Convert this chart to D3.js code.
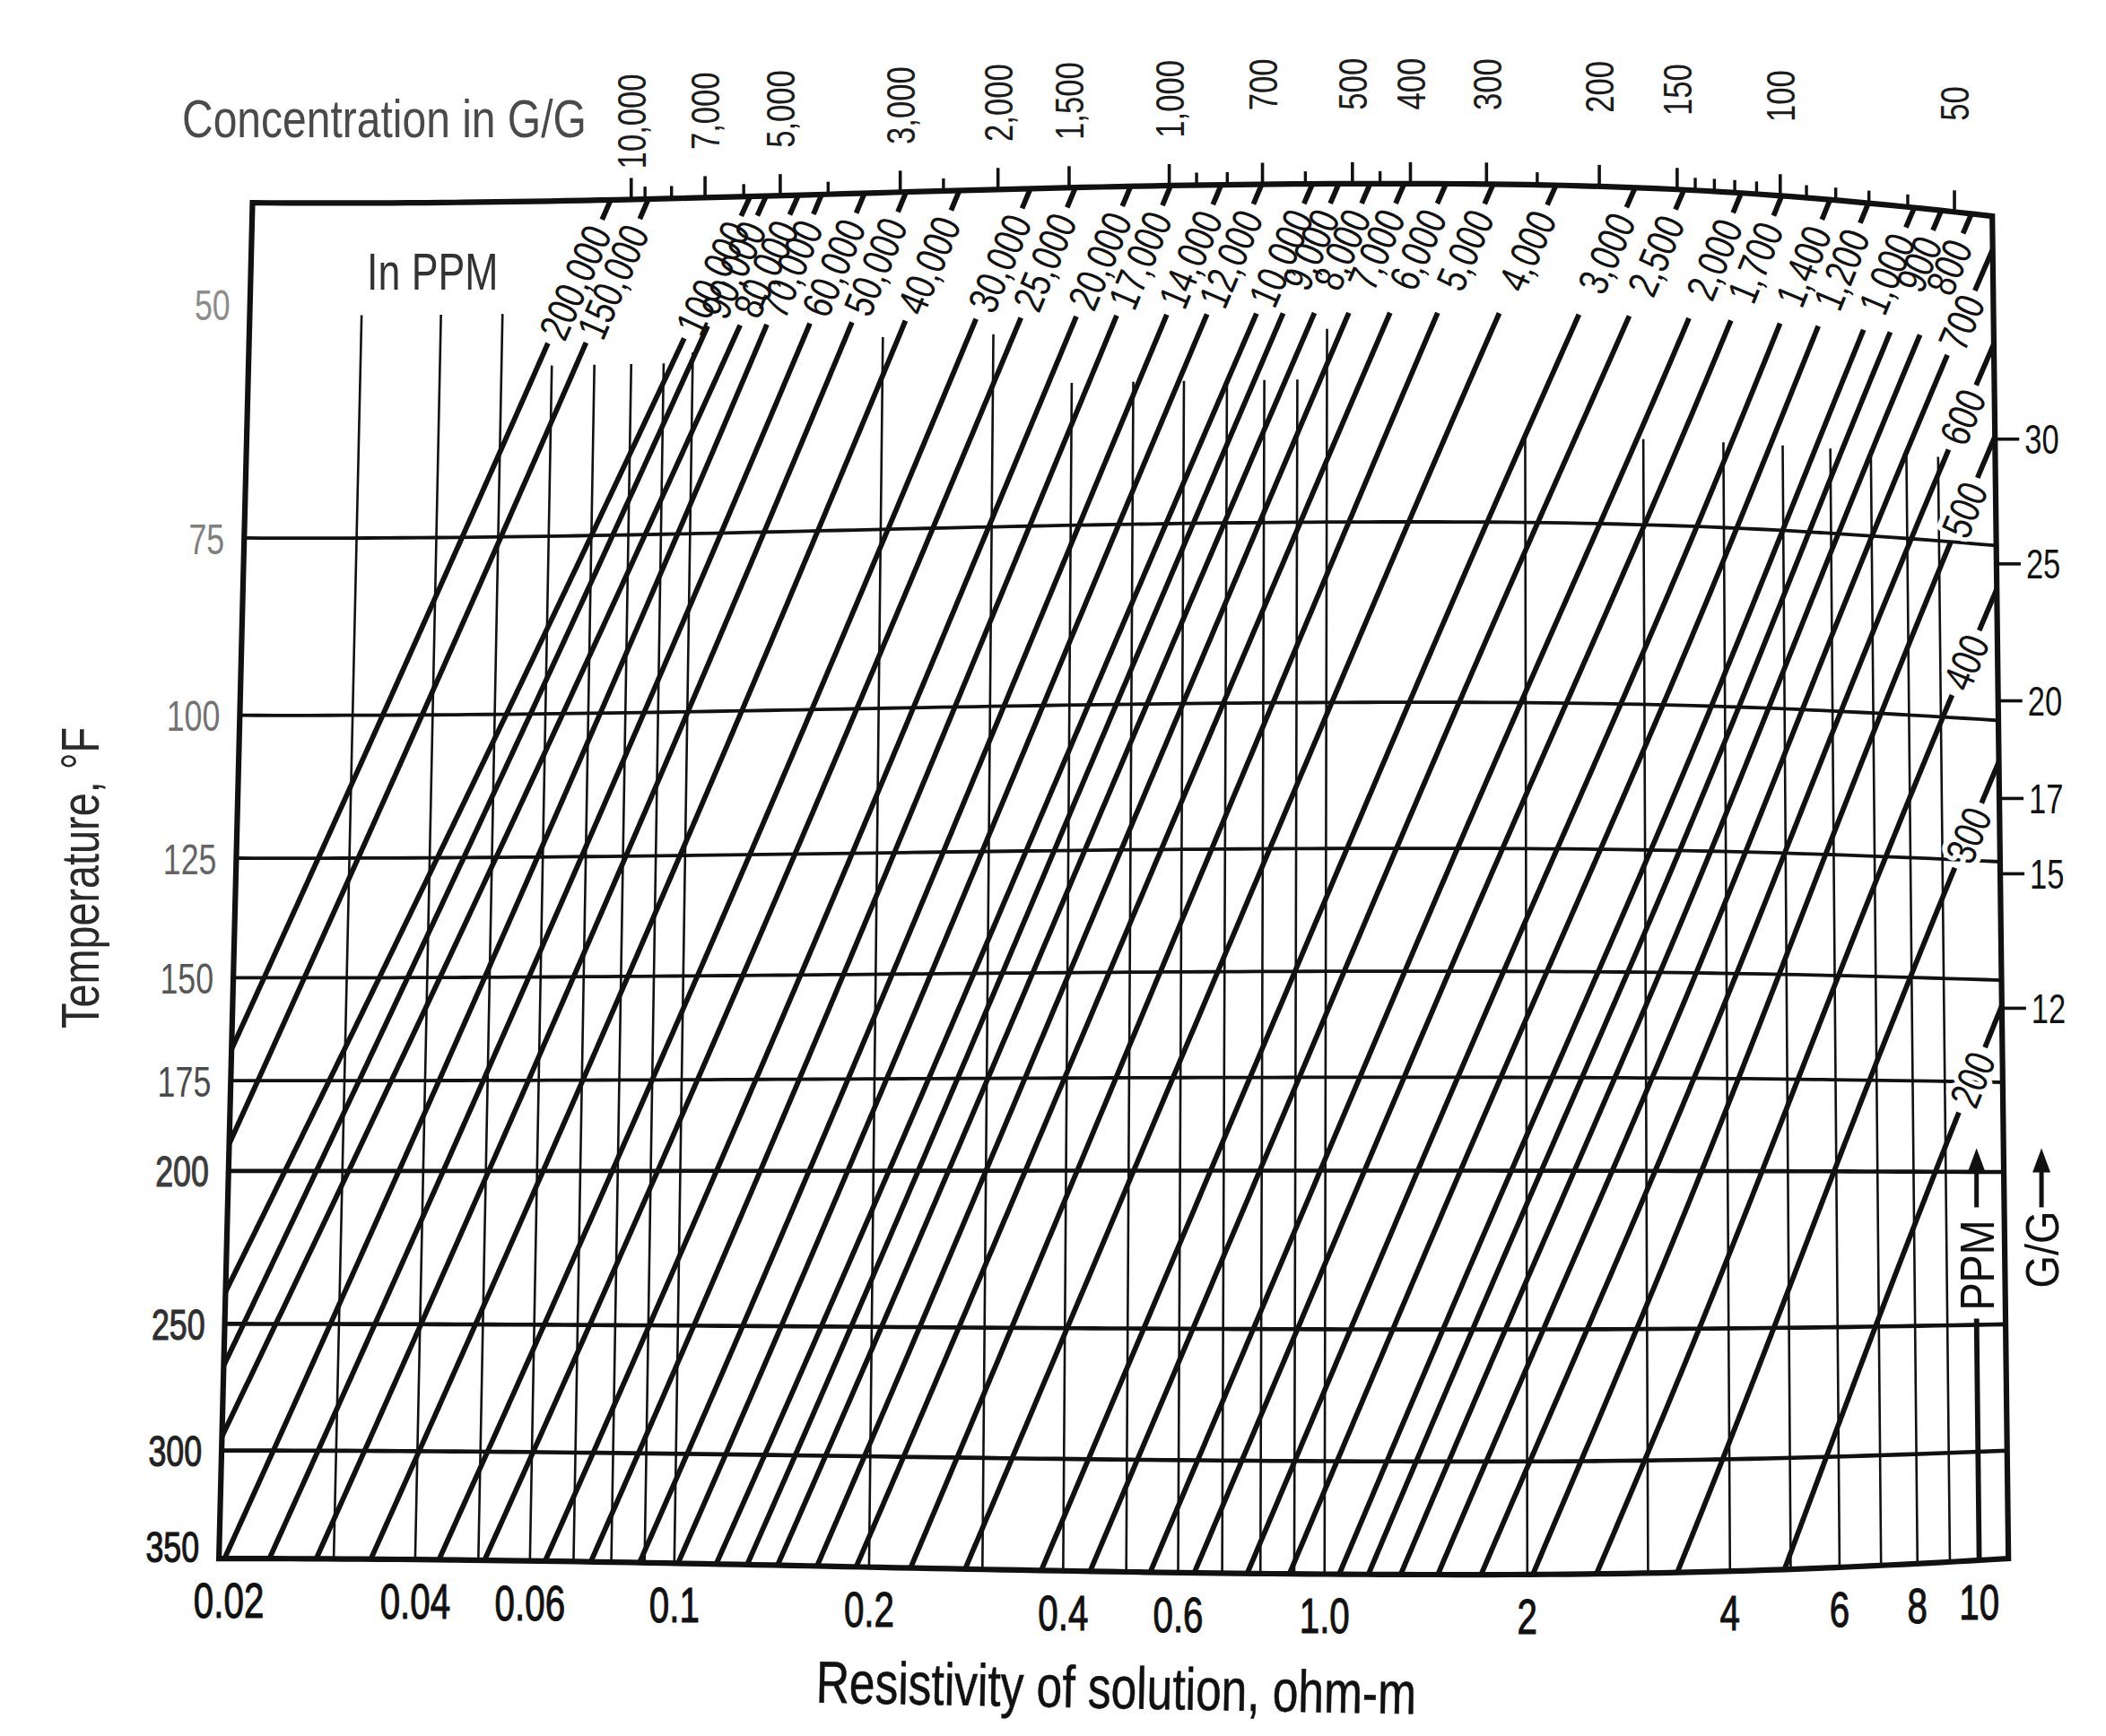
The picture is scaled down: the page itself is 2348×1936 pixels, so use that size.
<!DOCTYPE html>
<html><head><meta charset="utf-8">
<script src="https://cdn.jsdelivr.net/npm/d3@7"></script>
<style>
html,body{margin:0;padding:0;background:#fff;}
svg{display:block;background:#fff;}
text{font-family:"Liberation Sans",Arimo,Arial,sans-serif;}
</style></head><body>
<svg id="chart" width="2348" height="1936"></svg>
<script>
// ---------------- DATA ----------------
const ppmValues = [200000,150000,100000,90000,80000,70000,60000,50000,40000,30000,25000,20000,17000,14000,12000,10000,9000,8000,7000,6000,5000,4000,3000,2500,2000,1700,1400,1200,1000,900,800,700,600,500,400,300,200];
// resistivity (ohm-m) at 75 °F and at 350 °F (line extended where it leaves the grid)
const resistivityAt75F = [0.0439,0.0505,0.070,0.0756,0.085,0.0956,0.1119,0.1308,0.159,0.2054,0.242,0.2968,0.3445,0.4123,0.4758,0.5641,0.622,0.695,0.788,0.911,1.082,1.336,1.755,2.087,2.579,3.009,3.623,4.195,4.988,5.518,6.168,7.01,8.12,9.40,11.87,15.44,22.1];
const resistivityAt350F = [0.00914,0.01061,0.01284,0.01467,0.01643,0.0204,0.0239,0.0282,0.0342,0.0435,0.0511,0.0633,0.0744,0.0884,0.1013,0.116,0.1295,0.1443,0.1661,0.191,0.232,0.282,0.370,0.440,0.544,0.635,0.764,0.885,1.052,1.164,1.301,1.478,1.712,2.037,2.52,3.317,4.885];
const temperatureTicks = [50,75,100,125,150,175,200,250,300,350];
const temperatureGrid = [75,100,125,150,175,200,250,300];
const resistivityTicks = [0.02,0.04,0.06,0.1,0.2,0.4,0.6,1.0,2,4,6,8,10];
const resistivityTickLabels = ["0.02","0.04","0.06","0.1","0.2","0.4","0.6","1.0","2","4","6","8","10"];
const resistivityGrid = [0.03,0.04,0.05,0.06,0.07,0.08,0.09,0.1,0.2,0.3,0.4,0.5,0.6,0.7,0.8,0.9,1,2,3,4,5,6,7,8,9];
const grainsTopMajor = [10000,7000,5000,3000,2000,1500,1000,700,500,400,300,200,150,100,50];
const grainsTopMinor = [9000,8000,6000,4000,2500,900,800,600,450,250,140,130,120,110,90,80,70,60];
const grainsRight = [30,25,20,17,15,12];
const ppmPerGrainTop = 17.1;
const ppmPerGrainRight = 16.6;

// ---------------- LAYOUT ----------------
const S = 2348/1568;
const T_OFF = 17, T_TOP = 41.4, T_BOT = 350, R_MIN = 0.02, R_MAX = 11.1;
const xScale = d3.scaleLog().domain([R_MIN, R_MAX]).range([0,1]);
const yScale = d3.scaleLog().domain([T_TOP+T_OFF, T_BOT+T_OFF]).range([0,1]);
const vOf = T => yScale(T + T_OFF);
const INK = "#111";

function fBump(u){ const u0=0.7; if(u<u0){ const s=Math.sin(Math.PI/2*u/u0); return s*s; } const t=(u-u0)/(1-u0); return 1-t*t; }
function bulge(v){ return -21 + 16.7*v + 16.3*v*v; }
function gx(u){ return 8.5*Math.exp(-Math.pow((u-0.82)/0.1,2)) - 3*Math.exp(-Math.pow((u-0.5)/0.15,2)); }
// page projection of the chart frame (photo keystone + page curl)
function warp(u,v){
  const xl = 188 + (163-188)*v, xr = 1483 + (1495-1483)*v;
  const x = xl + (xr-xl)*u + gx(u);
  const yl = 151 + (1160.7-151)*v;
  const y = yl + 10*(1-v)*(1-v)*u + bulge(v)*fBump(u);
  return [x*S, y*S];
}
function sample(fn,t0,t1,n){ const a=[]; for(let i=0;i<=n;i++) a.push(fn(t0+(t1-t0)*i/n)); return a; }
function cumul(p){ const c=[0]; for(let i=1;i<p.length;i++) c.push(c[i-1]+Math.hypot(p[i][0]-p[i-1][0],p[i][1]-p[i-1][1])); return c; }
function pointAt(p,c,s){ let i=d3.bisectLeft(c,s); if(i<1) i=1; if(i>p.length-1) i=p.length-1;
  const t=(s-c[i-1])/((c[i]-c[i-1])||1); const a=p[i-1], b=p[i];
  return {x:a[0]+(b[0]-a[0])*t, y:a[1]+(b[1]-a[1])*t, dx:b[0]-a[0], dy:b[1]-a[1]}; }
function slicePts(p,c,sa,sb){ const o=[]; const a=pointAt(p,c,sa); o.push([a.x,a.y]);
  for(let i=0;i<p.length;i++) if(c[i]>sa && c[i]<sb) o.push(p[i]);
  const b=pointAt(p,c,sb); o.push([b.x,b.y]); return o; }
const lineGen = d3.line();

const svg = d3.select("#chart");
const gGrid = svg.append("g").attr("fill","none").attr("stroke",INK);
const gConc = svg.append("g").attr("fill","none").attr("stroke",INK).attr("stroke-width",5.8).attr("stroke-linecap","butt");
const gFrame = svg.append("g").attr("fill","none").attr("stroke",INK);
const gText = svg.append("g").attr("fill",INK);

// condensed text helper: scale along the text direction
function label(str,o){
  const sx=o.sx||0.76;
  const t=gText.append("text").text(str).attr("font-size",o.size)
    .attr("text-anchor",o.anchor||"start").attr("fill",o.fill||INK)
    .attr("transform",`translate(${o.x},${o.y}) rotate(${o.rot||0}) scale(${sx},1)`);
  if(o.dy) t.attr("dy",o.dy);
  if(o.bold) t.attr("stroke",o.fill||INK).attr("stroke-width",o.bold);
  t.len = () => t.node().getComputedTextLength()*sx;
  return t;
}

// ---------- vertical resistivity grid ----------
function gridTopT(R){ if(R<0.055) return 51; if(R<0.095) return 56; if(R<0.15) return 55; if(R<0.35) return 54; if(R<0.95) return 59; if(R<1.5) return 54; return 65; }
resistivityGrid.forEach(R=>{
  const u=xScale(R);
  gGrid.append("path").attr("stroke-width",2.6)
    .attr("d",lineGen(sample(v=>warp(u,v),vOf(gridTopT(R)),1,40)));
});
// ---------- horizontal temperature grid ----------
temperatureGrid.forEach(T=>{
  const v=vOf(T);
  gGrid.append("path").attr("stroke-width",T>=200?4.6:3.8)
    .attr("d",lineGen(sample(u=>warp(u,v),0,1,100)));
});

// ---------- concentration lines ----------
const v75 = vOf(75);
const lines = ppmValues.map((p,i)=>{
  const L75=Math.log10(resistivityAt75F[i]), L350=Math.log10(resistivityAt350F[i]);
  const b=(L350-L75)/(1-v75), a=L75-b*v75;
  const uAt = v => xScale(Math.pow(10,a+b*v));
  const side = uAt(0)>1 ? "right" : "top";
  const v0 = side==="top" ? 0 : (Math.log10(R_MAX)-a)/b;
  const v1 = uAt(1)<0 ? (Math.log10(R_MIN)-a)/b : 1;
  return {ppm:p,a,b,uAt,side,v0,v1};
});
const fmt = d3.format(",");
const N=240;
const topLogR=[], topPpm=[], rightV=[], rightPpm=[];
const vMainStart = vOf(52.5);
lines.forEach(l=>{
  const pts = sample(v=>warp(l.uAt(v),v), l.v0, l.v1, N);
  const c = cumul(pts); const total=c[c.length-1];
  const lab = label(fmt(l.ppm),{x:0,y:0,size:47,sx:0.78,anchor:"end",dy:"0.36em"});
  const len = lab.len();
  let sStub, sLab, sMain;
  if(l.side==="top"){
    topLogR.push(l.a); topPpm.push(l.ppm);
    sStub=24; sLab=34;
    const f=(vMainStart-l.v0)/(l.v1-l.v0)*N; const k=Math.floor(f);
    const sV=c[k]+(c[k+1]-c[k])*(f-k);
    sMain=Math.max(sV, sLab+len+8);
  } else {
    rightV.push(l.v0); rightPpm.push(l.ppm);
    sStub=50; sLab=58; sMain=sLab+len+9;
    lab.attr("stroke","#fff").attr("stroke-width",12).attr("paint-order","stroke").attr("stroke-linejoin","round");
  }
  const pa = pointAt(pts,c,sLab);
  const ang = Math.atan2(-pa.dy,-pa.dx)*180/Math.PI;
  lab.attr("transform",`translate(${pa.x},${pa.y}) rotate(${ang}) scale(0.78,1)`);
  gConc.append("path").attr("d",lineGen(slicePts(pts,c,0,sStub)));
  gConc.append("path").attr("d",lineGen(slicePts(pts,c,sMain,total)));
});

// ---------- frame ----------
const frame = [].concat(
  sample(u=>warp(u,0),0,1,100),
  sample(v=>warp(1,v),0,1,50),
  sample(u=>warp(u,1),1,0,100),
  sample(v=>warp(0,v),1,0,50));
gFrame.append("path").attr("stroke-width",6.2).attr("stroke-linejoin","miter")
  .attr("d",lineGen(frame)+"Z");

// ---------- top grains-per-gallon scale ----------
const topScale = d3.scaleLog().domain(topPpm).range(topLogR);
function topTick(g){ const u=xScale(Math.pow(10,topScale(g*ppmPerGrainTop))); return warp(u,0); }
grainsTopMinor.forEach(g=>{ const p=topTick(g);
  gFrame.append("line").attr("x1",p[0]).attr("x2",p[0]).attr("y1",p[1]).attr("y2",p[1]-14).attr("stroke-width",3.4); });
grainsTopMajor.forEach(g=>{ const p=topTick(g);
  gFrame.append("line").attr("x1",p[0]).attr("x2",p[0]).attr("y1",p[1]).attr("y2",p[1]-24).attr("stroke-width",3.6);
  label(fmt(g),{x:p[0],y:p[1]-140,rot:-90,size:45,sx:0.77,anchor:"end",dy:"0.36em",fill:"#1c1c1c"});
});

// ---------- right grains-per-gallon scale ----------
const rightScale = d3.scaleLog().domain(rightPpm).range(rightV);
grainsRight.forEach(g=>{ const p=warp(1,rightScale(g*ppmPerGrainRight));
  gFrame.append("line").attr("x1",p[0]).attr("x2",p[0]+27).attr("y1",p[1]).attr("y2",p[1]).attr("stroke-width",3.6);
  label(String(g),{x:p[0]+33,y:p[1],size:46,sx:0.75,dy:"0.36em"});
});

// ---------- temperature labels ----------
const tempColor = d3.scaleLinear().domain([0,temperatureTicks.length-1]).range(["#8c8c8c","#151515"]);
temperatureTicks.forEach((T,i)=>{ const p=warp(0,vOf(T));
  label(String(T),{x:p[0]-22,y:p[1]-(T===350?14:0),size:49,sx:0.73,anchor:"end",dy:"0.36em",fill:tempColor(i),bold:T>=200?1.2:0});
});
// ---------- resistivity labels ----------
resistivityTicks.forEach((R,i)=>{ const p=warp(xScale(R),1);
  label(resistivityTickLabels[i],{x:p[0]+(i===0?11:0),y:p[1]+66,size:56,sx:0.72,anchor:"middle",bold:1.1});
});

// ---------- titles ----------
label("Concentration in G/G",{x:203,y:153,size:60,sx:0.8,fill:"#4a4a4a"});
label("In PPM",{x:409,y:323,size:58,sx:0.77,fill:"#333"});
label("Temperature, °F",{x:110,y:979,rot:-90,size:60,sx:0.78,anchor:"middle",fill:"#2a2a2a"});
label("Resistivity of solution, ohm-m",{x:1244,y:1905,rot:1.1,size:66,sx:0.78,anchor:"middle",bold:0.6});

// ---------- PPM / G/G arrows ----------
const u10 = xScale(10);
const pBot = warp(u10,1), p250 = warp(u10,vOf(250));
gFrame.append("line").attr("x1",pBot[0]).attr("y1",pBot[1]).attr("x2",p250[0]).attr("y2",p250[1]-7).attr("stroke-width",5.8);
const ppmText = label("PPM",{x:p250[0],y:p250[1]-16,rot:-90,size:53,sx:0.88,dy:"0.36em"});
const arrowStart = p250[1]-16-ppmText.len()-14, arrowTip = arrowStart-66;
function arrow(x){
  gFrame.append("line").attr("x1",x).attr("x2",x).attr("y1",arrowStart).attr("y2",arrowTip+20).attr("stroke-width",5);
  gText.append("path").attr("d",`M${x},${arrowTip} L${x-10},${arrowTip+27} L${x+10},${arrowTip+27} Z`);
}
arrow(p250[0]);
const pR = warp(1,vOf(250));
const ggx = pR[0]+40;
label("G/G",{x:ggx,y:p250[1]-41,rot:-90,size:52,sx:0.9,dy:"0.36em"});
arrow(ggx);
</script>
</body></html>
